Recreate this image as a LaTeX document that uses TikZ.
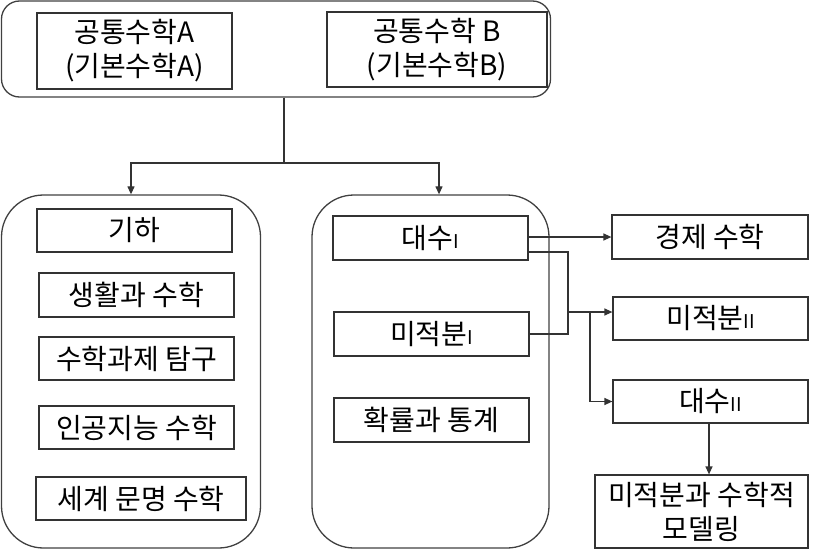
\documentclass[tikz,border=0pt]{standalone}
\usepackage{fontspec}
\setmainfont{Noto Sans CJK KR}
\usetikzlibrary{arrows.meta}
\newcommand{\rom}[1]{{\fontsize{19}{19}\selectfont #1}}
\begin{document}
\begin{tikzpicture}[x=1pt, y=-1pt,
        course/.style={draw=black!80, line width=1.2pt, rectangle, inner sep=0pt,
                       align=center, font=\fontsize{28}{34}\selectfont},
        group/.style={draw=black!75, line width=1.3pt, rectangle, inner sep=0pt},
        arr/.style={draw=black!80, line width=1.2pt, -{Triangle[length=8pt, width=7pt]}},
        link/.style={draw=black!80, line width=1.2pt}]
    \useasboundingbox (0, 0) rectangle (827, 552);

    \node[group, rounded corners=18pt, minimum width=549pt, minimum height=96pt] (common) at (276, 49) {};
    \node[group, rounded corners=42pt, minimum width=259pt, minimum height=353pt] (general) at (131, 371.5) {};
    \node[group, rounded corners=42pt, minimum width=237pt, minimum height=353pt] (core) at (430.5, 371.5) {};

    \node[course, minimum width=195pt, minimum height=76pt] (comA) at (134.5, 51) {공통수학A\\(기본수학A)};
    \node[course, minimum width=220pt, minimum height=75pt] (comB) at (437, 49.5) {공통수학 B\\(기본수학B)};

    \node[course, minimum width=195pt, minimum height=43pt] (geo) at (134.5, 230.5) {기하};
    \node[course, minimum width=195pt, minimum height=44pt] (life) at (136.5, 295) {생활과 수학};
    \node[course, minimum width=195pt, minimum height=43pt] (task) at (136.5, 358.5) {수학과제 탐구};
    \node[course, minimum width=195pt, minimum height=43pt] (ai) at (136.5, 427.5) {인공지능 수학};
    \node[course, minimum width=210pt, minimum height=43pt] (civ) at (141, 498.5) {세계 문명 수학};

    \node[course, minimum width=195pt, minimum height=44pt] (alg1) at (430.5, 238) {대수\rom{I}};
    \node[course, minimum width=195pt, minimum height=44pt] (calc1) at (431.5, 334) {미적분\rom{I}};
    \node[course, minimum width=195pt, minimum height=44pt] (prob) at (431.5, 420) {확률과 통계};

    \node[course, minimum width=196pt, minimum height=44pt] (econ) at (710, 237) {경제 수학};
    \node[course, minimum width=195pt, minimum height=43pt] (calc2) at (710.5, 318.5) {미적분\rom{II}};
    \node[course, minimum width=195pt, minimum height=43pt] (alg2) at (710.5, 401.5) {대수\rom{II}};
    \node[course, minimum width=213pt, minimum height=73pt] (model) at (701.5, 511.5) {미적분과 수학적\\모델링};

    \coordinate (split) at (284, 163);
    \coordinate (brk) at (568, 312);
    \coordinate (fork) at (590, 312);

    \draw[link] (common.south -| split) -- (split);
    \draw[arr] (split) -| (general.north);
    \draw[arr] (split) -| ([xshift=8.5pt]core.north);

    \draw[arr] (econ.west -| alg1.east) -- (econ.west);
    \draw[link] ([yshift=-14pt]alg1.east) -| (brk) |- (calc1.east);
    \draw[arr] (brk) -- (brk -| calc2.west);
    \draw[arr] (fork) |- (alg2.west);
    \draw[arr] ([xshift=-1.5pt]alg2.south) -- ([xshift=-1.5pt]alg2.south |- model.north);
\end{tikzpicture}
\end{document}
